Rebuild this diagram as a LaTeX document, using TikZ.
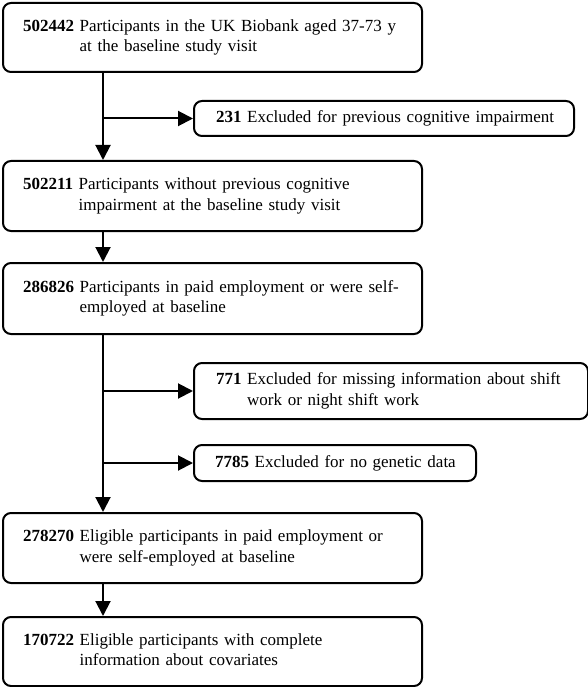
\documentclass[tikz,border=0pt]{standalone}
\usepackage{fontspec}
\setmainfont{Liberation Serif}
\usetikzlibrary{arrows.meta}
\newcommand{\twoline}[3]{\begin{tabular}{@{}l@{\ }l@{}}\textbf{#1} & #2\\ & #3\end{tabular}}
\newcommand{\oneline}[2]{\begin{tabular}{@{}l@{}}\textbf{#1} #2\end{tabular}}
\tikzset{
  box/.style={draw=black, line width=2pt, rounded corners=8pt, anchor=north west,
    inner xsep=20pt, inner ysep=0pt, align=left,
    font=\fontsize{17}{20.5}\selectfont},
  arr/.style={line width=2pt, -{Triangle[length=15pt,width=15pt]}}
}
\begin{document}
\begin{tikzpicture}[x=1pt,y=-1pt]
\useasboundingbox (0,0) rectangle (588,687);
\node[box, text width=379pt, minimum height=69pt] (b1) at (2,2)
  {\twoline{502442}{Participants in the UK Biobank aged 37-73 y}{at the baseline study visit}};
\node[box, inner xsep=22pt, text width=336pt, minimum height=35pt] (b2) at (193,100)
  {\oneline{231}{Excluded for previous cognitive impairment}};
\node[box, text width=379pt, minimum height=70pt] (b3) at (2,160)
  {\twoline{502211}{Participants without previous cognitive}{impairment at the baseline study visit}};
\node[box, text width=379pt, minimum height=71pt] (b4) at (2,262)
  {\twoline{286826}{Participants in paid employment or were self-}{employed at baseline}};
\node[box, inner xsep=22pt, text width=350pt, minimum height=56pt] (b5) at (193,362)
  {\twoline{771}{Excluded for missing information about shift}{work or night shift work}};
\node[box, inner xsep=21pt, text width=240pt, minimum height=36pt] (b6) at (193,444)
  {\oneline{7785}{Excluded for no genetic data}};
\node[box, text width=379pt, minimum height=70pt] (b7) at (2,512)
  {\twoline{278270}{Eligible participants in paid employment or}{were self-employed at baseline}};
\node[box, text width=379pt, minimum height=69pt] (b8) at (2,616)
  {\twoline{170722}{Eligible participants with complete}{information about covariates}};
\coordinate (tx) at (103,0);
\draw[arr] (b1.south -| tx) -- (b3.north -| tx);
\draw[arr] (b2.west -| tx) -- (b2.west);
\draw[arr] (b3.south -| tx) -- (b4.north -| tx);
\draw[arr] (b4.south -| tx) -- (b7.north -| tx);
\draw[arr] (b5.west -| tx) -- (b5.west);
\draw[arr] (b6.west -| tx) -- (b6.west);
\draw[arr] (b7.south -| tx) -- (b8.north -| tx);
\end{tikzpicture}
\end{document}
